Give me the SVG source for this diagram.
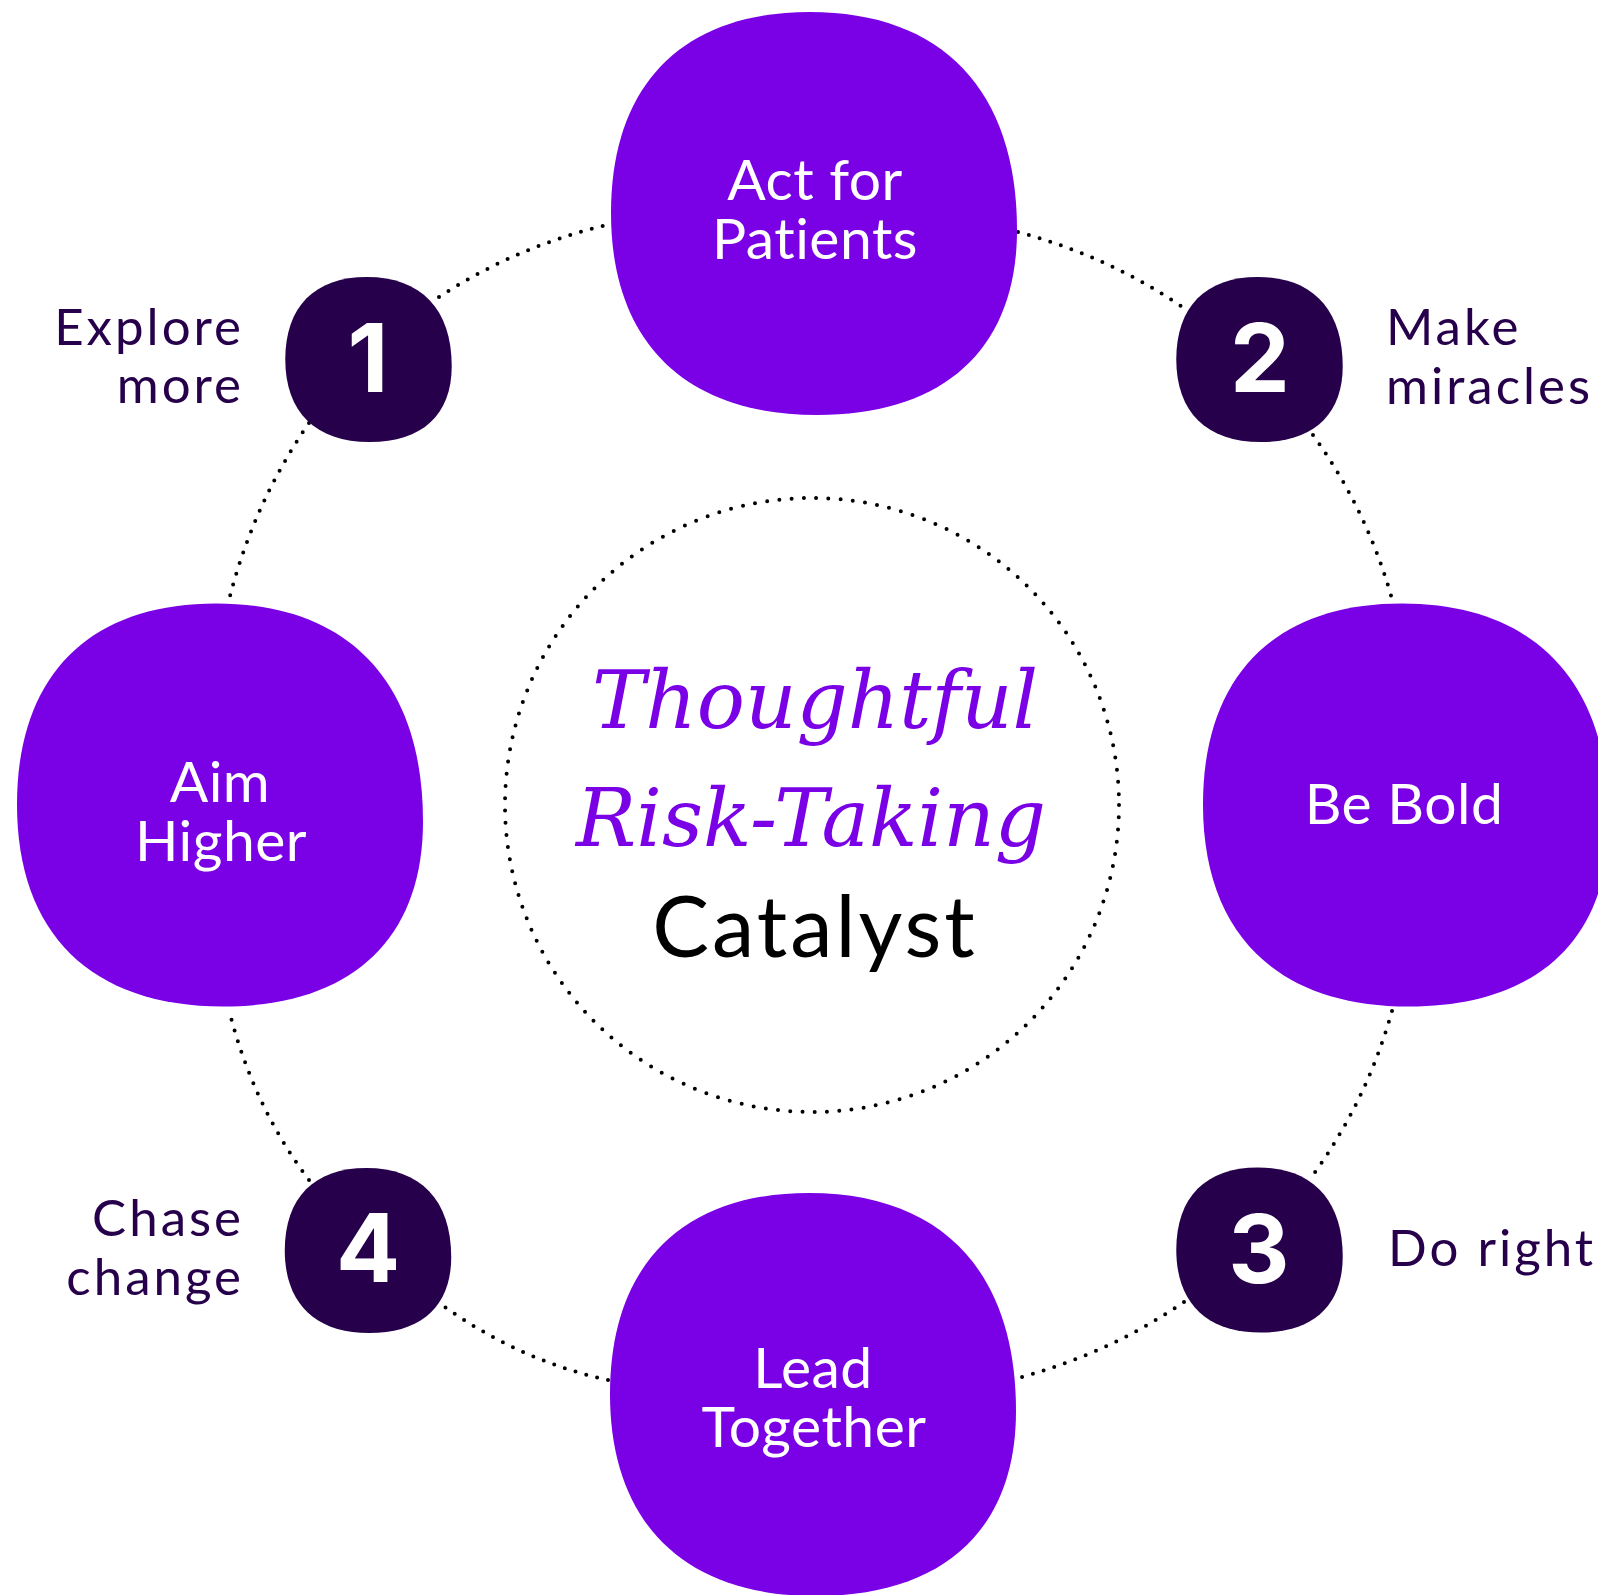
<svg xmlns="http://www.w3.org/2000/svg" xmlns:xlink="http://www.w3.org/1999/xlink" width="1598" height="1595" viewBox="0 0 1598 1595">
<style>
text{font-variant-ligatures:none}
.big{fill:#7A00E6}
.num{fill:#26004A}
.dots{fill:none;stroke:#000;stroke-width:4;stroke-linecap:round;stroke-dasharray:0 11.2}
.ring{fill:none;stroke:#000;stroke-width:4;stroke-linecap:round;stroke-dasharray:0 12.29}
.bt{font-family:Lato,"Liberation Sans",sans-serif;font-size:57px;fill:#fff;text-anchor:middle;letter-spacing:0.5px}
.nt{font-family:Inter,Lato,"Liberation Sans",sans-serif;font-size:95px;font-weight:bold;fill:#fff;text-anchor:middle}
.lb{font-family:Lato,"Liberation Sans",sans-serif;font-size:51px;fill:#26004A;letter-spacing:3px}
.it{font-family:"DejaVu Serif",serif;font-style:italic;font-size:80px;fill:#7A00E6;text-anchor:middle}
.cat{font-family:Lato,"Liberation Sans",sans-serif;font-size:85px;fill:#000;text-anchor:middle;letter-spacing:3px}
</style>
<defs>
<path id="blob" d="M-4,-201.5 C128,-201.5 203,-123.5 203,16.5 C203,134.5 131,201.5 3,201.5 C-129,201.5 -203,128.5 -203,-0.5 C-203,-129.5 -131,-201.5 -4,-201.5Z"/>
</defs>
<rect width="1598" height="1595" fill="#fff"/>
<g id="connectors">
<path class="dots" d="M439,297 Q516.7,246.3 607,225"/>
<path class="dots" d="M1018,232 Q1107.5,255.8 1184,308"/>
<path class="dots" d="M1313,435 Q1367.1,510 1392,599"/>
<path class="dots" d="M309,423 Q253,504.2 229,600"/>
<path class="dots" d="M1392,1011 Q1367.1,1100 1313,1175"/>
<path class="dots" d="M1184,1302 Q1107.5,1354.2 1018,1378"/>
<path class="dots" d="M608,1380 Q516.7,1360 438,1302"/>
<path class="dots" d="M309,1180 Q253,1105.8 229,1010"/>
</g>
<g id="center">
<circle class="ring" cx="812" cy="805" r="307"/>
<text class="it" x="815" y="728">Thoughtful</text>
<text class="it" x="811" y="846">Risk-Taking</text>
<text class="cat" x="815" y="957">Catalyst</text>
</g>
<g id="act-for-patients">
<use href="#blob" class="big" transform="translate(814,213.5)"/>
<text class="bt" x="815" y="200">Act for</text>
<text class="bt" x="815" y="259">Patients</text>
</g>
<g id="aim-higher">
<use href="#blob" class="big" transform="translate(220,805)"/>
<text class="bt" x="220" y="802">Aim</text>
<text class="bt" x="221" y="861">Higher</text>
</g>
<g id="be-bold">
<use href="#blob" class="big" transform="translate(1406,805)"/>
<text class="bt" x="1404" y="824">Be Bold</text>
</g>
<g id="lead-together">
<use href="#blob" class="big" transform="translate(813,1394.5)"/>
<text class="bt" x="813" y="1388">Lead</text>
<text class="bt" x="814" y="1447">Together</text>
</g>
<g id="step-1">
<use href="#blob" class="num" transform="translate(368.5,359.5) scale(0.41)"/>
<text class="nt" x="368" y="392">1</text>
<text class="lb" x="244" y="345" text-anchor="end">Explore</text>
<text class="lb" x="244" y="403" text-anchor="end">more</text>
</g>
<g id="step-2">
<use href="#blob" class="num" transform="translate(1259.5,359.5) scale(0.41)"/>
<text class="nt" x="1260" y="392">2</text>
<text class="lb" x="1386" y="345">Make</text>
<text class="lb" x="1386" y="404">miracles</text>
</g>
<g id="step-3">
<use href="#blob" class="num" transform="translate(1259.5,1250) scale(0.41)"/>
<text class="nt" x="1259" y="1283">3</text>
<text class="lb" x="1388" y="1266">Do right</text>
</g>
<g id="step-4">
<use href="#blob" class="num" transform="translate(368,1250.5) scale(0.41)"/>
<text class="nt" x="368" y="1282">4</text>
<text class="lb" x="244" y="1236" text-anchor="end">Chase</text>
<text class="lb" x="244" y="1295" text-anchor="end">change</text>
</g>
</svg>
